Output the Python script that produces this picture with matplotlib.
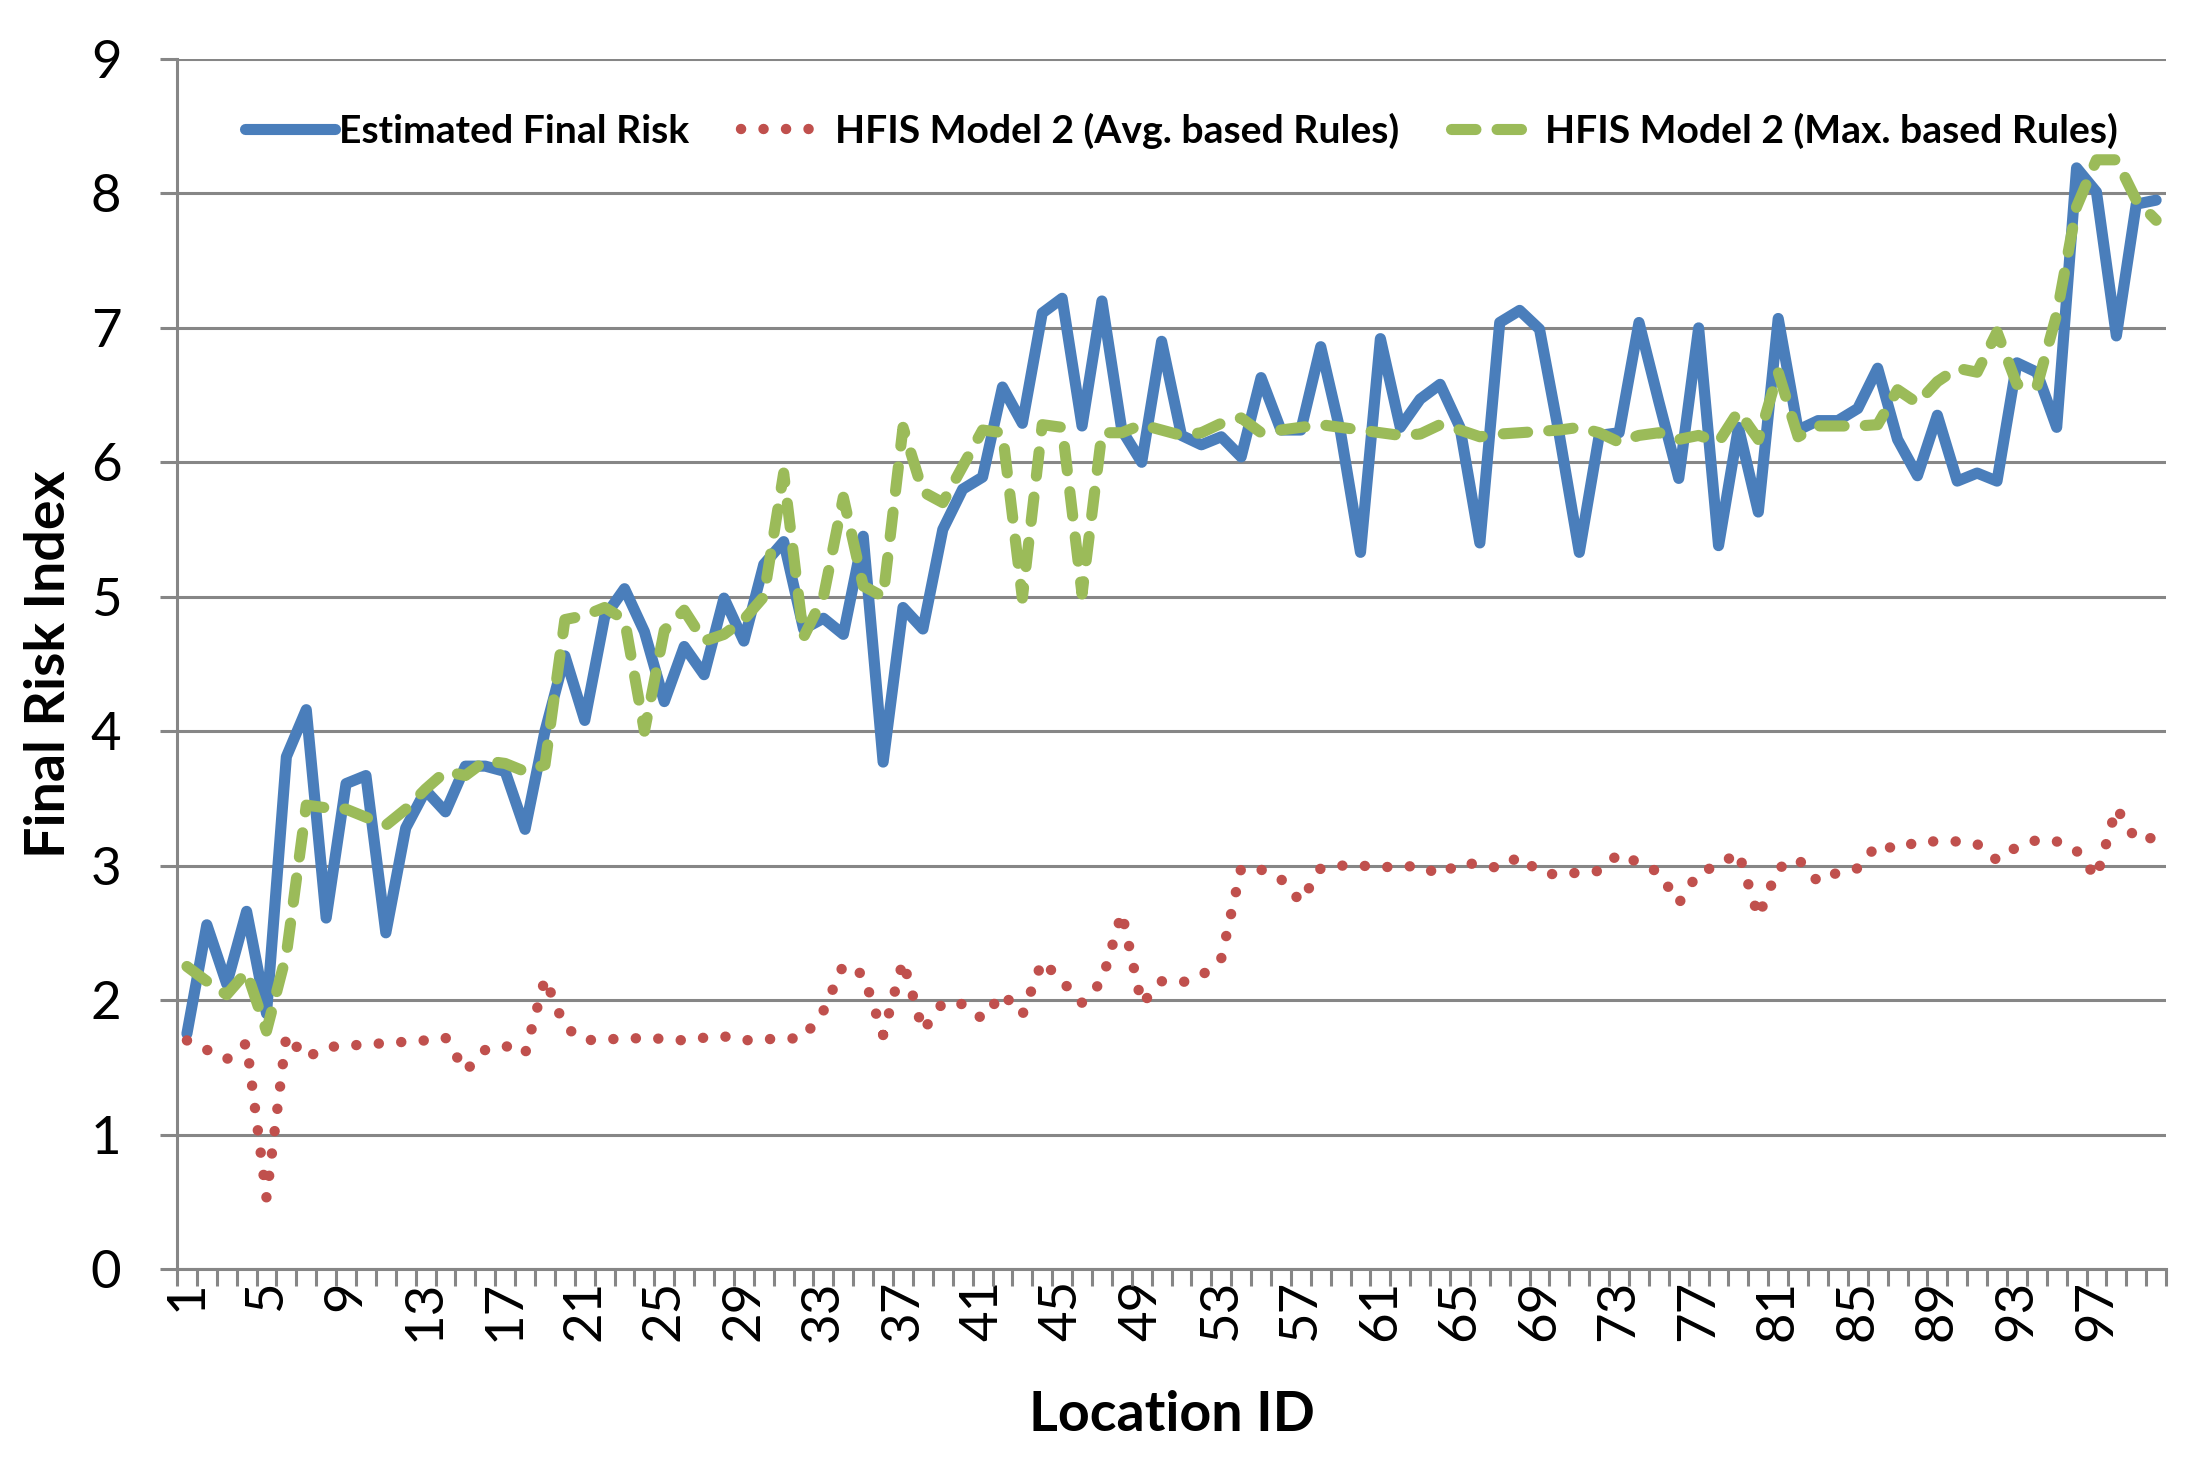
import matplotlib
matplotlib.use('Agg')
import matplotlib.pyplot as plt
import numpy as np

# values, locations 1..100
location_ids = list(range(1, 101))

estimated_final_risk = [
    1.75, 2.56, 2.12, 2.66, 1.90, 3.81, 4.16, 2.61, 3.61, 3.67,
    2.50, 3.28, 3.56, 3.40, 3.74, 3.74, 3.70, 3.27, 4.00, 4.56,
    4.08, 4.85, 5.06, 4.74, 4.22, 4.63, 4.42, 4.99, 4.67, 5.24,
    5.41, 4.76, 4.84, 4.72, 5.45, 3.77, 4.92, 4.76, 5.50, 5.80,
    5.89, 6.56, 6.29, 7.11, 7.22, 6.27, 7.20, 6.24, 6.00, 6.90,
    6.20, 6.13, 6.19, 6.04, 6.63, 6.24, 6.24, 6.86, 6.22, 5.33,
    6.92, 6.26, 6.47, 6.58, 6.26, 5.40, 7.04, 7.13, 6.99, 6.20,
    5.33, 6.20, 6.22, 7.04, 6.45, 5.88, 7.00, 5.38, 6.26, 5.63,
    7.07, 6.24, 6.31, 6.31, 6.40, 6.70, 6.17, 5.90, 6.35, 5.86,
    5.92, 5.86, 6.74, 6.67, 6.26, 8.19, 8.01, 6.94, 7.92, 7.95,
]

hfis_avg = [
    1.70, 1.63, 1.56, 1.68, 0.53, 1.74, 1.57, 1.65, 1.66, 1.67,
    1.68, 1.69, 1.70, 1.72, 1.47, 1.63, 1.66, 1.60, 2.16, 1.80,
    1.70, 1.71, 1.71, 1.72, 1.71, 1.70, 1.72, 1.73, 1.70, 1.71,
    1.71, 1.72, 1.92, 2.26, 2.19, 1.74, 2.29, 1.77, 1.98, 1.97,
    1.86, 2.05, 1.89, 2.29, 2.14, 1.98, 2.14, 2.65, 1.97, 2.14,
    2.13, 2.18, 2.31, 2.98, 2.97, 2.90, 2.73, 2.98, 3.00, 3.00,
    2.99, 2.99, 3.00, 2.93, 3.02, 3.01, 2.98, 3.07, 2.95, 2.93,
    2.95, 2.96, 3.09, 3.02, 2.95, 2.72, 2.95, 3.00, 3.10, 2.62,
    2.98, 3.05, 2.88, 2.95, 2.98, 3.16, 3.12, 3.18, 3.18, 3.18,
    3.16, 3.04, 3.14, 3.19, 3.18, 3.11, 2.91, 3.43, 3.19, 3.21,
]

hfis_max = [
    2.25, 2.14, 2.04, 2.21, 1.77, 2.34, 3.45, 3.43, 3.42, 3.36,
    3.30, 3.42, 3.57, 3.70, 3.67, 3.78, 3.76, 3.70, 3.75, 4.83,
    4.86, 4.92, 4.83, 4.00, 4.75, 4.90, 4.67, 4.72, 4.83, 5.00,
    5.92, 4.70, 5.00, 5.74, 5.08, 5.00, 6.26, 5.78, 5.70, 5.97,
    6.24, 6.22, 4.99, 6.28, 6.26, 5.02, 6.22, 6.22, 6.28, 6.24,
    6.20, 6.22, 6.29, 6.33, 6.22, 6.24, 6.26, 6.28, 6.26, 6.24,
    6.22, 6.20, 6.21, 6.28, 6.24, 6.19, 6.21, 6.22, 6.23, 6.24,
    6.26, 6.22, 6.15, 6.20, 6.22, 6.17, 6.20, 6.15, 6.38, 6.17,
    6.67, 6.19, 6.27, 6.27, 6.27, 6.28, 6.54, 6.44, 6.60, 6.70,
    6.67, 6.97, 6.58, 6.56, 7.10, 7.90, 8.25, 8.25, 7.95, 7.80,
]

labels = ["Estimated Final Risk",
          "HFIS Model 2 (Avg. based Rules)",
          "HFIS Model 2 (Max. based Rules)"]

plt.rcParams['font.family'] = ['Lato', 'DejaVu Sans']
grid_grey = '#868686'

fig = plt.figure(figsize=(22.04, 14.67), dpi=100)
ax = fig.add_axes([0.0803, 0.135, 0.9025, 0.8248])

ax.plot(location_ids, estimated_final_risk, color='#4A7EBB', lw=8,
        solid_capstyle='round', solid_joinstyle='round',
        label=labels[0], zorder=3)
ax.plot(location_ids, hfis_avg, color='#C0504D', lw=7.5,
        linestyle=(0, (0.01, 2.15)), dash_capstyle='round',
        label=labels[1], zorder=4)
ax.plot(location_ids, hfis_max, color='#9BBB59', lw=8,
        linestyle=(0, (2.2, 1.9)), dash_capstyle='round',
        label=labels[2], zorder=5)

ax.set_xlim(0.5, 100.5)
ax.set_ylim(0, 9)

# category labels every 4th location, tick marks between categories
ax.set_xticks(location_ids[::4])
ax.set_xticklabels([str(i) for i in location_ids[::4]], rotation=90)
ax.set_xticks(np.arange(0.5, 101, 1.0), minor=True)
ax.tick_params(axis='x', which='major', length=0, pad=8, labelsize=38)
ax.tick_params(axis='x', which='minor', length=12, width=2.2,
               color=grid_grey, direction='out')

ax.set_yticks(range(0, 10))
ax.tick_params(axis='y', which='major', length=12, width=2.2,
               color=grid_grey, pad=28, labelsize=38)

ax.yaxis.grid(True, color=grid_grey, lw=2.2)
ax.set_axisbelow(True)
for side in ('top', 'right'):
    ax.spines[side].set_visible(False)
for side in ('left', 'bottom'):
    ax.spines[side].set_color(grid_grey)
    ax.spines[side].set_linewidth(2.2)

ax.set_xlabel("Location ID", fontsize=40, fontweight='bold', labelpad=35)
ax.set_ylabel("Final Risk Index", fontsize=40, fontweight='bold', labelpad=12)

leg = ax.legend(loc='upper center', bbox_to_anchor=(0.505, 0.985), ncol=3,
                frameon=False, handlelength=2.3, handletextpad=0.12,
                columnspacing=1.3, prop={'weight': 'bold', 'size': 28.2})

fig.savefig('out.png', dpi=100)
plt.close(fig)
